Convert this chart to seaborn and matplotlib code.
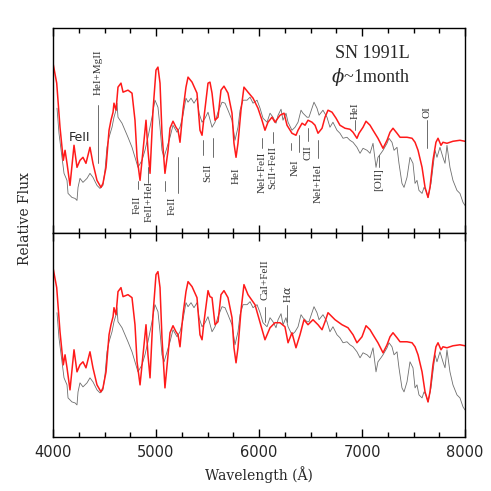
import numpy as np
import pandas as pd
import matplotlib
matplotlib.use("Agg")
import matplotlib.pyplot as plt
from matplotlib.ticker import MultipleLocator
import seaborn as sns

# ---------------- data ----------------
red_top_wave = [4000, 4036, 4068, 4100, 4117, 4136, 4165, 4204, 4233, 4262, 4291, 4320, 4359, 4388,
                4427, 4466, 4485, 4515, 4544, 4563, 4583, 4592, 4612, 4631, 4660, 4680, 4728, 4767,
                4796, 4816, 4845, 4874, 4903, 4922, 4942, 4971, 5000, 5019, 5039, 5058, 5087, 5117,
                5136, 5165, 5194, 5214, 5233, 5262, 5291, 5311, 5350, 5398, 5427, 5447, 5466, 5505,
                5524, 5544, 5573, 5602, 5631, 5660, 5699, 5738, 5757, 5777, 5796, 5825, 5854, 5893,
                5942, 5990, 6029, 6058, 6087, 6126, 6155, 6204, 6243, 6272, 6320, 6359, 6379, 6418,
                6447, 6476, 6515, 6544, 6573, 6612, 6641, 6670, 6709, 6748, 6786, 6835, 6883, 6913,
                6951, 6971, 7010, 7039, 7078, 7107, 7155, 7204, 7243, 7272, 7301, 7340, 7369, 7437,
                7486, 7515, 7544, 7583, 7612, 7641, 7660, 7689, 7718, 7738, 7767, 7786, 7825, 7883,
                7951, 8000]
red_top_flux = [8.45, 7.45, 5.25, 3.6, 4.1, 3.45, 2.35, 4.35, 3.25, 3.6, 3.75, 3.45, 4.25, 3.45,
                2.6, 2.25, 2.45, 3.25, 5.1, 5.6, 6.0, 6.45, 6.1, 7.25, 7.45, 7.0, 7.1, 6.95,
                5.6, 3.75, 2.6, 4.1, 5.6, 4.1, 2.95, 6.1, 8.1, 8.25, 7.45, 4.95, 2.95, 4.1,
                5.2, 5.55, 5.25, 5.1, 4.5, 6.1, 7.25, 7.75, 7.5, 6.95, 5.1, 4.85, 5.75, 7.45,
                7.5, 6.95, 5.6, 5.75, 7.1, 7.3, 6.95, 5.95, 4.45, 3.75, 4.45, 6.1, 7.25, 7.0,
                6.7, 6.2, 5.6, 5.1, 5.5, 5.75, 5.5, 5.85, 5.95, 5.35, 4.95, 4.85, 5.1, 5.45,
                5.35, 5.6, 5.5, 5.35, 4.95, 5.2, 5.75, 6.1, 6.0, 5.7, 5.35, 5.2, 5.15, 5.0,
                4.7, 4.95, 5.25, 5.55, 5.35, 5.1, 4.7, 4.2, 4.6, 5.0, 5.2, 4.95, 4.75, 4.75,
                4.7, 4.5, 4.1, 3.25, 2.25, 1.75, 2.25, 3.6, 4.5, 4.7, 4.35, 4.5, 4.45, 4.55,
                4.6, 4.55]

red_bot_wave = [4000, 4036, 4068, 4100, 4117, 4136, 4165, 4204, 4233, 4262, 4291, 4320, 4359, 4388,
                4427, 4466, 4485, 4515, 4544, 4563, 4583, 4592, 4612, 4631, 4660, 4680, 4728, 4767,
                4796, 4816, 4845, 4874, 4903, 4922, 4942, 4971, 5000, 5019, 5039, 5058, 5087, 5117,
                5136, 5165, 5194, 5214, 5233, 5262, 5291, 5311, 5350, 5398, 5427, 5447, 5466, 5505,
                5524, 5544, 5573, 5602, 5631, 5660, 5699, 5738, 5757, 5777, 5796, 5825, 5854, 5893,
                5961, 6058, 6107, 6155, 6204, 6252, 6282, 6320, 6359, 6398, 6437, 6476, 6524, 6573,
                6612, 6641, 6670, 6738, 6806, 6864, 6913, 6951, 7000, 7039, 7078, 7107, 7155, 7204,
                7243, 7272, 7301, 7340, 7369, 7437, 7486, 7515, 7544, 7583, 7612, 7641, 7660, 7689,
                7718, 7738, 7767, 7786, 7825, 7883, 7951, 8000]
red_bot_flux = [8.45, 7.45, 5.25, 3.6, 4.1, 3.45, 2.35, 4.35, 3.25, 3.6, 3.75, 3.45, 4.25, 3.45,
                2.6, 2.25, 2.45, 3.25, 5.1, 5.6, 6.0, 6.45, 6.1, 7.25, 7.45, 7.0, 7.1, 6.95,
                5.6, 3.75, 2.6, 4.1, 5.6, 4.1, 2.95, 6.1, 8.1, 8.25, 7.45, 4.95, 2.45, 4.1,
                5.2, 5.55, 5.25, 5.1, 4.5, 6.1, 7.25, 7.75, 7.5, 6.95, 5.1, 4.85, 5.75, 7.3,
                7.0, 6.95, 5.6, 5.75, 7.1, 7.3, 6.95, 5.95, 4.45, 3.7, 4.45, 6.3, 7.6, 7.1,
                6.6, 4.85, 5.45, 5.7, 5.7, 5.5, 4.7, 5.2, 4.45, 5.1, 5.85, 5.6, 5.85, 5.6,
                5.35, 5.75, 6.2, 5.85, 5.6, 5.45, 5.1, 4.7, 5.0, 5.55, 5.35, 5.1, 4.7, 4.2,
                4.6, 5.0, 5.2, 4.95, 4.75, 4.75, 4.7, 4.5, 4.1, 3.25, 2.25, 1.75, 2.25, 3.6,
                4.5, 4.7, 4.35, 4.5, 4.45, 4.55, 4.6, 4.55]

obs_wave = [4039, 4058, 4087, 4107, 4136, 4146, 4184, 4214, 4233, 4243, 4262, 4291, 4330, 4359,
            4388, 4427, 4456, 4485, 4505, 4524, 4544, 4573, 4592, 4612, 4621, 4631, 4670, 4699,
            4728, 4767, 4796, 4825, 4864, 4893, 4922, 4961, 4990, 5019, 5039, 5058, 5078, 5107,
            5136, 5165, 5204, 5233, 5262, 5291, 5311, 5340, 5369, 5398, 5418, 5447, 5476, 5505,
            5544, 5573, 5602, 5641, 5670, 5699, 5738, 5767, 5796, 5816, 5845, 5884, 5913, 5942,
            5981, 6010, 6039, 6078, 6107, 6136, 6165, 6185, 6214, 6233, 6262, 6282, 6320, 6350,
            6379, 6408, 6427, 6466, 6485, 6515, 6534, 6563, 6583, 6621, 6660, 6689, 6718, 6757,
            6786, 6816, 6854, 6883, 6913, 6951, 6981, 7010, 7049, 7078, 7107, 7136, 7155, 7184,
            7204, 7243, 7262, 7291, 7311, 7340, 7359, 7388, 7408, 7437, 7466, 7495, 7515, 7534,
            7553, 7583, 7602, 7621, 7641, 7670, 7689, 7709, 7728, 7757, 7786, 7806, 7825, 7854,
            7883, 7922, 7951, 7981, 8000]
obs_flux = [6.2, 4.95, 3.75, 2.95, 2.6, 1.95, 1.75, 1.7, 1.6, 2.25, 2.7, 2.5, 2.7, 2.95,
            2.75, 2.35, 2.2, 2.35, 3.1, 4.25, 4.75, 5.25, 5.75, 6.1, 6.45, 5.75, 5.45, 5.1,
            4.75, 4.25, 3.75, 3.25, 3.6, 4.1, 4.75, 5.75, 6.6, 6.25, 5.25, 4.1, 3.75, 4.25,
            4.75, 5.35, 5.0, 5.25, 5.85, 6.7, 6.5, 6.7, 6.45, 6.7, 5.95, 5.5, 5.7, 6.0,
            5.25, 5.5, 6.0, 6.5, 6.45, 6.1, 5.6, 4.6, 5.25, 6.1, 6.6, 6.6, 6.75, 6.45,
            6.6, 6.2, 5.7, 5.5, 5.95, 5.75, 5.45, 5.85, 6.15, 5.6, 5.95, 5.5, 5.1, 5.25,
            5.5, 6.1, 5.95, 5.75, 5.75, 6.2, 6.5, 6.2, 5.85, 6.1, 5.75, 5.25, 5.5, 5.1,
            4.95, 4.7, 4.75, 4.6, 4.5, 4.25, 3.95, 4.2, 4.1, 3.95, 4.45, 3.25, 3.75, 3.95,
            4.1, 4.45, 4.7, 4.5, 4.1, 4.25, 3.45, 2.45, 2.25, 2.75, 3.75, 3.45, 2.45, 2.6,
            2.1, 1.95, 2.25, 2.1, 1.75, 2.45, 3.25, 4.1, 3.75, 4.25, 3.75, 3.45, 4.35, 3.25,
            2.6, 2.1, 1.95, 1.5, 1.35]

x_ticks = [4000, 5000, 6000, 7000, 8000]

# line identifications
top_labels = ["HeI+MgII", "FeII", "FeII+HeI", "FeII", "ScII", "HeI", "NeI+FeII",
              "ScII+FeII", "NeI", "CII", "NeI+HeI", "HeI", "[OII]", "OI"]
top_label_wave = [4437, 4815, 4935, 5155, 5505, 5777, 6029, 6136, 6350, 6476, 6573, 6932, 7165, 7631]
top_label_y = [8.0, 1.4, 1.55, 1.35, 3.0, 2.85, 3.0, 3.25, 3.25, 4.0, 2.45, 6.05, 2.65, 6.0]
top_marks_wave = [4437, 4825, 4922, 5087, 5214, 5456, 5553, 6029, 6136, 6311, 6388, 6476, 6573, 6932, 7165, 7631]
top_marks_y0 = [6.35, 2.55, 3.25, 2.55, 3.75, 4.6, 4.7, 4.7, 5.0, 4.45, 4.85, 5.2, 4.6, 5.6, 3.85, 5.6]
top_marks_y1 = [3.45, 2.15, 2.45, 2.05, 1.95, 3.85, 3.75, 4.2, 4.45, 4.1, 4.0, 4.55, 3.7, 5.1, 3.25, 4.2]

bot_labels = ["CaI+FeII", r"H$\alpha$"]
bot_label_wave = [6058, 6272]
bot_label_y = [7.85, 7.1]
bot_marks_wave = [6058, 6272]
bot_marks_y0 = [6.5, 6.6]
bot_marks_y1 = [5.75, 5.75]

# ---------------- figure ----------------
sns.set_style("ticks")
plt.rcParams["font.family"] = ["DejaVu Serif"]
plt.rcParams["mathtext.fontset"] = "dejavuserif"

fig = plt.figure(figsize=(4.91, 4.91), dpi=100)
L, R, B, T = 53 / 491, 465 / 491, 54 / 491, 463 / 491
H = (T - B) / 2
ax_top = fig.add_axes([L, B + H, R - L, H])
ax_bot = fig.add_axes([L, B, R - L, H])

red = "#ff1a1a"
gray = "#6e6e6e"

df_obs = pd.DataFrame({"wave": obs_wave, "flux": obs_flux})
df_rt = pd.DataFrame({"wave": red_top_wave, "flux": red_top_flux})
df_rb = pd.DataFrame({"wave": red_bot_wave, "flux": red_bot_flux})

for ax, dfr in ((ax_top, df_rt), (ax_bot, df_rb)):
    sns.lineplot(data=df_obs, x="wave", y="flux", ax=ax, color=gray, lw=0.6,
                 estimator=None, sort=False)
    sns.lineplot(data=dfr, x="wave", y="flux", ax=ax, color=red, lw=1.1,
                 estimator=None, sort=False)
    ax.set_xlim(4000, 8000)
    ax.set_ylim(0, 10.2)
    ax.set_ylabel("")
    ax.set_xlabel("")
    ax.tick_params(axis="y", which="both", left=False, right=False, labelleft=False)
    ax.set_xticks(x_ticks)
    ax.xaxis.set_minor_locator(MultipleLocator(250))
    ax.tick_params(axis="x", which="both", direction="in", top=True, bottom=True, color="black")
    ax.tick_params(axis="x", which="major", length=6, width=1.0)
    ax.tick_params(axis="x", which="minor", length=3.5, width=1.0)
    for s in ax.spines.values():
        s.set_visible(True)
        s.set_linewidth(1.0)
        s.set_color("black")

ax_top.tick_params(axis="x", labelbottom=False)
ax_bot.tick_params(axis="x", which="major", pad=6, labelsize=10.5, labelfontfamily="DejaVu Sans")
ax_bot.set_xlabel("Wavelength (Å)", fontsize=10, labelpad=4)
fig.text(0.051, 0.556, "Relative Flux", rotation=90, ha="center", va="center", fontsize=10)

lab_kw = dict(rotation=90, ha="center", va="center", fontsize=8, color="#333333",
              family="Liberation Serif")
mark_kw = dict(color="#555555", lw=0.6)

for t, w, y in zip(top_labels, top_label_wave, top_label_y):
    ax_top.text(w, y, t, **lab_kw)
for w, y0, y1 in zip(top_marks_wave, top_marks_y0, top_marks_y1):
    ax_top.plot([w, w], [y0, y1], **mark_kw)
ax_top.text(4262, 4.75, "FeII", ha="center", va="center", fontsize=9, family="DejaVu Sans")

for t, w, y in zip(bot_labels, bot_label_wave, bot_label_y):
    ax_bot.text(w, y, t, **lab_kw)
for w, y0, y1 in zip(bot_marks_wave, bot_marks_y0, bot_marks_y1):
    ax_bot.plot([w, w], [y0, y1], **mark_kw)

ax_top.text(7097, 8.95, "SN 1991L", ha="center", va="center", fontsize=13, family="Liberation Serif")
ax_top.text(7078, 7.75, r"$\phi$~1month", ha="center", va="center", fontsize=13,
            family="Liberation Serif")

fig.savefig("out.png", dpi=100)
